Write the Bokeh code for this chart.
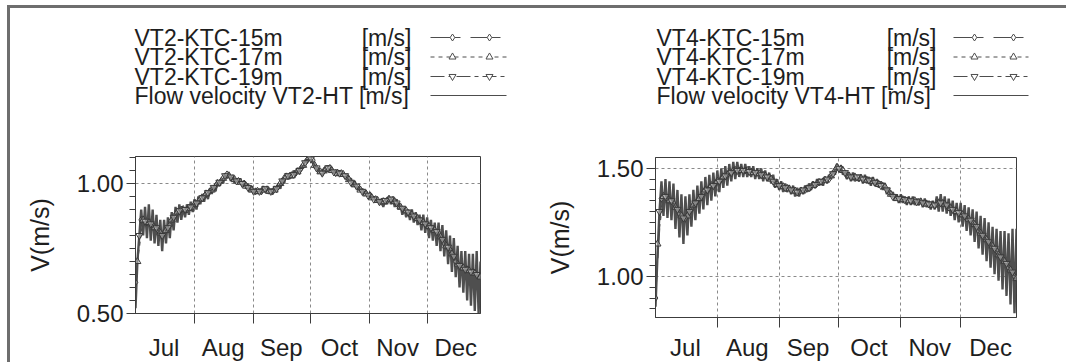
from bokeh.plotting import figure
from bokeh.models import Range1d, FixedTicker, Div, Spacer
from bokeh.layouts import row, column
from bokeh.embed import file_html
from bokeh.resources import INLINE
from bokeh.core.properties import value

FONT = "Liberation Sans"

# ---------------- data (x = days since 1 July) ----------------
month_labels = ["Jul", "Aug", "Sep", "Oct", "Nov", "Dec"]
month_starts = [0, 31, 62, 92, 123, 153]
month_mids = [15, 46, 76.5, 107, 137.5, 168]

flow_days = list(range(182))
ktc15_days = list(range(0, 181, 3))
ktc17_days = list(range(1, 182, 3))
ktc19_days = list(range(2, 180, 3))

# VT2 panel
vt2_flow = [
    0.52, 0.70, 0.80, 0.90, 0.80, 0.91, 0.79, 0.92, 0.78, 0.90,
    0.77, 0.88, 0.76, 0.86, 0.74, 0.86, 0.77, 0.87, 0.79, 0.89,
    0.82, 0.91, 0.85, 0.92, 0.86, 0.91, 0.87, 0.92, 0.88, 0.93,
    0.89, 0.94, 0.90, 0.95, 0.92, 0.96, 0.93, 0.97, 0.94, 0.98,
    0.96, 0.99, 0.97, 1.01, 0.99, 1.02, 1.00, 1.04, 1.02, 1.04,
    1.01, 1.03, 1.00, 1.02, 1.00, 1.02, 0.99, 1.01, 0.98, 1.00,
    0.97, 0.99, 0.96, 0.98, 0.96, 0.98, 0.96, 0.99, 0.97, 0.99,
    0.96, 0.98, 0.96, 0.99, 0.97, 1.00, 0.98, 1.02, 1.00, 1.04,
    1.02, 1.04, 1.02, 1.05, 1.03, 1.06, 1.04, 1.07, 1.06, 1.09,
    1.08, 1.11, 1.09, 1.08, 1.06, 1.06, 1.04, 1.05, 1.03, 1.06,
    1.04, 1.07, 1.05, 1.06, 1.04, 1.05, 1.03, 1.05, 1.03, 1.04,
    1.02, 1.03, 1.01, 1.02, 0.99, 1.01, 0.98, 0.99, 0.97, 0.98,
    0.96, 0.97, 0.95, 0.96, 0.94, 0.95, 0.93, 0.94, 0.92, 0.94,
    0.91, 0.94, 0.92, 0.95, 0.92, 0.95, 0.91, 0.94, 0.90, 0.92,
    0.88, 0.91, 0.87, 0.90, 0.86, 0.90, 0.85, 0.89, 0.84, 0.88,
    0.82, 0.88, 0.81, 0.87, 0.79, 0.86, 0.78, 0.85, 0.76, 0.85,
    0.74, 0.84, 0.72, 0.82, 0.69, 0.80, 0.66, 0.79, 0.64, 0.76,
    0.60, 0.74, 0.58, 0.74, 0.55, 0.73, 0.53, 0.73, 0.51, 0.74,
    0.50, 0.70,
]
vt2_ktc15 = [
    0.62, 0.86, 0.85, 0.84, 0.82, 0.81, 0.84, 0.88, 0.90, 0.90,
    0.91, 0.93, 0.95, 0.97, 0.99, 1.01, 1.035, 1.02, 1.01, 1.00,
    0.98, 0.97, 0.97, 0.975, 0.97, 0.99, 1.02, 1.03, 1.04, 1.06,
    1.09, 1.09, 1.05, 1.05, 1.06, 1.04, 1.04, 1.025, 1.00, 0.985,
    0.965, 0.955, 0.94, 0.93, 0.935, 0.935, 0.915, 0.90, 0.885, 0.87,
    0.855, 0.84, 0.825, 0.81, 0.77, 0.745, 0.70, 0.68, 0.67, 0.66, 0.645,
]
vt2_ktc17 = [
    0.70, 0.86, 0.85, 0.83, 0.81, 0.82, 0.86, 0.89, 0.90, 0.905,
    0.92, 0.94, 0.96, 0.975, 1.00, 1.02, 1.03, 1.015, 1.005, 0.99,
    0.975, 0.97, 0.975, 0.97, 0.975, 1.00, 1.025, 1.03, 1.045, 1.07,
    1.10, 1.07, 1.045, 1.055, 1.05, 1.04, 1.035, 1.015, 0.995, 0.975,
    0.96, 0.945, 0.935, 0.93, 0.94, 0.93, 0.91, 0.895, 0.88, 0.865,
    0.85, 0.835, 0.82, 0.795, 0.76, 0.73, 0.69, 0.675, 0.665, 0.655, 0.64,
]
vt2_ktc19 = [
    0.80, 0.855, 0.845, 0.83, 0.80, 0.83, 0.87, 0.895, 0.90, 0.91,
    0.925, 0.945, 0.965, 0.985, 1.005, 1.03, 1.025, 1.01, 1.00, 0.985,
    0.97, 0.97, 0.98, 0.97, 0.98, 1.01, 1.03, 1.035, 1.05, 1.08,
    1.095, 1.06, 1.04, 1.06, 1.045, 1.04, 1.03, 1.005, 0.99, 0.97,
    0.955, 0.94, 0.93, 0.935, 0.94, 0.925, 0.905, 0.89, 0.875, 0.86,
    0.845, 0.83, 0.815, 0.785, 0.755, 0.72, 0.685, 0.67, 0.66, 0.65,
]

# VT4 panel
vt4_flow = [
    0.86, 1.10, 1.30, 1.44, 1.28, 1.45, 1.27, 1.44, 1.26, 1.43,
    1.22, 1.40, 1.18, 1.38, 1.15, 1.37, 1.19, 1.38, 1.23, 1.40,
    1.26, 1.42, 1.29, 1.44, 1.31, 1.46, 1.33, 1.47, 1.35, 1.48,
    1.37, 1.49, 1.39, 1.50, 1.41, 1.51, 1.42, 1.52, 1.44, 1.53,
    1.45, 1.53, 1.46, 1.52, 1.46, 1.52, 1.46, 1.51, 1.46, 1.51,
    1.45, 1.50, 1.45, 1.50, 1.44, 1.49, 1.44, 1.48, 1.43, 1.47,
    1.41, 1.45, 1.40, 1.44, 1.39, 1.43, 1.39, 1.42, 1.38, 1.42,
    1.37, 1.41, 1.37, 1.41, 1.38, 1.42, 1.39, 1.43, 1.40, 1.44,
    1.41, 1.45, 1.42, 1.45, 1.42, 1.46, 1.43, 1.47, 1.45, 1.49,
    1.47, 1.52, 1.49, 1.51, 1.47, 1.49, 1.45, 1.48, 1.44, 1.48,
    1.44, 1.47, 1.44, 1.47, 1.43, 1.47, 1.43, 1.46, 1.42, 1.46,
    1.42, 1.45, 1.41, 1.44, 1.40, 1.43, 1.38, 1.41, 1.37, 1.39,
    1.35, 1.38, 1.34, 1.38, 1.34, 1.37, 1.33, 1.37, 1.33, 1.37,
    1.33, 1.36, 1.33, 1.36, 1.32, 1.36, 1.32, 1.35, 1.31, 1.35,
    1.31, 1.37, 1.30, 1.38, 1.30, 1.37, 1.29, 1.36, 1.28, 1.35,
    1.26, 1.34, 1.25, 1.34, 1.23, 1.33, 1.21, 1.32, 1.19, 1.31,
    1.16, 1.30, 1.13, 1.28, 1.10, 1.27, 1.07, 1.25, 1.04, 1.23,
    1.01, 1.22, 0.98, 1.21, 0.94, 1.21, 0.91, 1.20, 0.87, 1.22,
    0.83, 1.22,
]
vt4_ktc15 = [
    0.90, 1.36, 1.36, 1.34, 1.29, 1.27, 1.31, 1.35, 1.39, 1.41,
    1.43, 1.45, 1.47, 1.49, 1.49, 1.49, 1.485, 1.48, 1.47, 1.46,
    1.43, 1.42, 1.41, 1.40, 1.39, 1.40, 1.415, 1.43, 1.44, 1.45,
    1.49, 1.50, 1.47, 1.46, 1.455, 1.45, 1.44, 1.43, 1.42, 1.39,
    1.365, 1.36, 1.35, 1.35, 1.345, 1.34, 1.33, 1.335, 1.34, 1.32,
    1.30, 1.29, 1.27, 1.25, 1.21, 1.18, 1.15, 1.12, 1.08, 1.04, 1.00,
]
vt4_ktc17 = [
    1.15, 1.37, 1.35, 1.32, 1.28, 1.28, 1.33, 1.36, 1.40, 1.42,
    1.44, 1.46, 1.48, 1.49, 1.49, 1.49, 1.48, 1.475, 1.465, 1.45,
    1.425, 1.415, 1.405, 1.395, 1.395, 1.405, 1.42, 1.435, 1.445, 1.465,
    1.505, 1.49, 1.465, 1.46, 1.455, 1.445, 1.44, 1.425, 1.415, 1.38,
    1.36, 1.355, 1.35, 1.35, 1.345, 1.335, 1.33, 1.34, 1.335, 1.315,
    1.30, 1.285, 1.265, 1.24, 1.20, 1.17, 1.14, 1.10, 1.07, 1.03, 0.99,
]
vt4_ktc19 = [
    1.30, 1.37, 1.35, 1.31, 1.27, 1.30, 1.34, 1.37, 1.40, 1.42,
    1.44, 1.465, 1.48, 1.49, 1.49, 1.485, 1.48, 1.47, 1.46, 1.44,
    1.42, 1.41, 1.40, 1.39, 1.40, 1.41, 1.425, 1.44, 1.45, 1.475,
    1.50, 1.48, 1.46, 1.46, 1.45, 1.445, 1.435, 1.42, 1.40, 1.37,
    1.36, 1.355, 1.35, 1.345, 1.34, 1.335, 1.33, 1.34, 1.33, 1.31,
    1.295, 1.28, 1.26, 1.23, 1.19, 1.16, 1.13, 1.09, 1.06, 1.02,
]

left_names = ["VT2-KTC-15m", "VT2-KTC-17m", "VT2-KTC-19m", "Flow velocity VT2-HT [m/s]"]
right_names = ["VT4-KTC-15m", "VT4-KTC-17m", "VT4-KTC-19m", "Flow velocity VT4-HT [m/s]"]
unit_label = "[m/s]"
y_label = "V(m/s)"

# ---------------- styling ----------------
SER = "#4d4d4d"
TXT = "#1e1e1e"
AX = "#3c3c3c"
GRID = "#8a8a8a"
BORDER = "#6e6e6e"
MARKERS = ["diamond", "triangle", "inverted_triangle"]
DASHES = ["30 10", "4 4", "14 4 4 4"]
LEG_FS = "23px"
TICK_FS = "24px"
LAB_FS = "25px"


def legend_fig(width, height, names, text_x, unit_right, s0, s1, mk, rows):
    lf = figure(width=width, height=height, x_range=Range1d(0, width), y_range=Range1d(height, 0),
                toolbar_location=None, output_backend="svg", x_axis_location=None, y_axis_location=None,
                min_border=0, frame_align=False)
    lf.grid.visible = False
    lf.outline_line_color = None
    lf.text(x=[text_x] * 4, y=rows, text=names, text_font=value(FONT), text_font_size=LEG_FS,
            text_baseline="middle", text_align="left", text_color=TXT)
    lf.text(x=[unit_right] * 3, y=rows[:3], text=[unit_label] * 3, text_font=value(FONT),
            text_font_size=LEG_FS, text_baseline="middle", text_align="right", text_color=TXT)
    for i in range(3):
        lf.line(x=[s0, s1], y=[rows[i], rows[i]], line_color=SER, line_width=1, line_dash=DASHES[i])
        lf.scatter(x=mk, y=[rows[i]] * len(mk), marker=MARKERS[i], size=7, line_color=SER,
                   fill_color="white", line_width=1)
    lf.line(x=[s0, s1], y=[rows[3], rows[3]], line_color=SER, line_width=1)
    return lf


def panel(fw, fh, yr, ymaj, yminor, bl, br, bt, bb, xstand, flow, k15, k17, k19):
    p = figure(frame_width=fw, frame_height=fh, x_range=Range1d(0, 181), y_range=Range1d(*yr),
               toolbar_location=None, output_backend="svg", frame_align=False,
               min_border_left=bl, min_border_right=br, min_border_top=bt, min_border_bottom=bb)
    p.background_fill_color = "white"
    p.outline_line_color = AX
    p.outline_line_width = 1
    p.line(flow_days, flow, line_color="#4f4f4f", line_width=2.4)
    for xs, ys, mkr, dash in zip([ktc15_days, ktc17_days, ktc19_days], [k15, k17, k19], MARKERS, DASHES):
        p.line(xs, ys, line_color=SER, line_width=1.2, line_dash=dash)
        p.scatter(xs, ys, marker=mkr, size=7, line_color="#3a3a3a", fill_color="white",
                  fill_alpha=0.35, line_width=1)

    # x axis: labels mid-month, tick marks at month boundaries
    xax = p.xaxis[0]
    xax.ticker = FixedTicker(ticks=month_mids, minor_ticks=month_starts[1:])
    xax.major_label_overrides = {m: lab for m, lab in zip(month_mids, month_labels)}
    xax.major_tick_out = 0
    xax.major_tick_in = 0
    xax.minor_tick_out = 10
    xax.minor_tick_in = 0
    xax.major_label_standoff = xstand

    yax = p.yaxis[0]
    yax.ticker = FixedTicker(ticks=ymaj, minor_ticks=yminor)
    yax.major_label_overrides = {v: f"{v:.2f}" for v in ymaj}
    yax.major_tick_out = 9
    yax.major_tick_in = 0
    yax.minor_tick_out = 6
    yax.minor_tick_in = 0
    yax.major_label_standoff = 3
    yax.axis_label = y_label
    yax.axis_label_standoff = 20

    for ax in (xax, yax):
        ax.axis_line_color = AX
        ax.major_tick_line_color = AX
        ax.minor_tick_line_color = AX
        ax.major_label_text_font = FONT
        ax.major_label_text_font_size = TICK_FS
        ax.major_label_text_color = TXT
        ax.axis_label_text_font = FONT
        ax.axis_label_text_font_size = LAB_FS
        ax.axis_label_text_font_style = "normal"
        ax.axis_label_text_color = TXT

    p.xgrid.ticker = FixedTicker(ticks=month_starts[1:])
    p.ygrid.ticker = FixedTicker(ticks=ymaj)
    for g in (p.xgrid, p.ygrid):
        g.grid_line_color = GRID
        g.grid_line_dash = "3 3"
        g.grid_line_width = 1
    return p


left_minor = [round(0.5 + 0.05 * i, 2) for i in range(13)]
right_minor = [round(0.85 + 0.05 * i, 2) for i in range(14)]

legL = legend_fig(531, 120, left_names, 124, 401, 420, 496, [442, 479], [29, 48.5, 68, 87])
legR = legend_fig(525, 120, right_names, 115, 395, 412, 487, [433, 472], [29, 48.5, 68, 87])

pL = panel(345, 157, (0.5, 1.104), [0.5, 1.0], left_minor, 125, 61, 28, 49, 10,
           vt2_flow, vt2_ktc15, vt2_ktc17, vt2_ktc19)
pR = panel(361, 160, (0.81, 1.55), [1.0, 1.5], right_minor, 114, 50, 29, 45, 6,
           vt4_flow, vt4_ktc15, vt4_ktc17, vt4_ktc19)

hbar = Div(text="", width=1059, height=3, margin=(0, 0, 0, 0), styles={"background-color": BORDER})
vbar = Div(text="", width=3, height=354, margin=(0, 0, 0, 0), styles={"background-color": BORDER})

body = row(Spacer(width=7, height=354), vbar, column(legL, pL, spacing=0), column(legR, pR, spacing=0), spacing=0)
page = column(Spacer(width=1066, height=5), row(Spacer(width=7, height=3), hbar, spacing=0), body, spacing=0)

open("out.html", "w").write(file_html(page, INLINE))
